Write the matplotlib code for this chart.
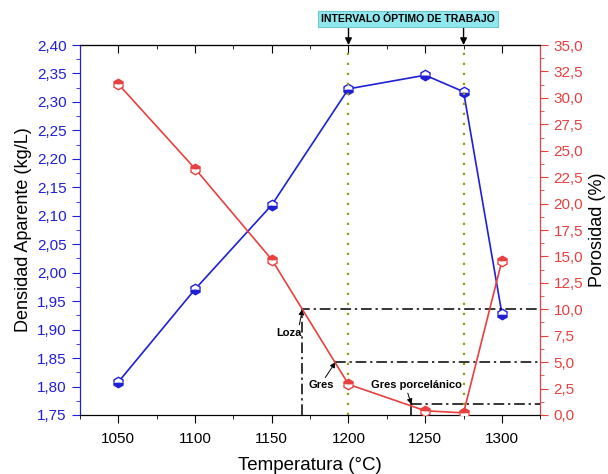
import matplotlib
matplotlib.use("Agg")
import matplotlib.pyplot as plt
from matplotlib.ticker import MultipleLocator, FuncFormatter, NullFormatter

# firing temperature (°C)
temperatura = [1050, 1100, 1150, 1200, 1250, 1275, 1300]
densidad = [1.808, 1.971, 2.119, 2.323, 2.347, 2.318, 1.928]
porosidad = [31.3, 23.3, 14.7, 2.9, 0.4, 0.2, 14.6]

# optimum firing window
intervalo = [1200, 1275]

# classification thresholds: (label, porosity limit, temperature where the curve crosses it)
clases = ["Loza", "Gres", "Gres porcelánico"]
limites = [10.0, 5.0, 1.0]
cruces = [1170, 1191.5, 1241]

BLUE = "#1f1fd6"
RED = "#e8403f"
plt.rcParams["font.family"] = ["Liberation Sans", "DejaVu Sans"]

fig = plt.figure(figsize=(6.08, 4.74), dpi=100)
ax = fig.add_axes([0.1316, 0.1245, 0.757, 0.7805])
ax2 = ax.twinx()

ax.plot(temperatura, densidad, color=BLUE, lw=1.2, marker="h", ms=7.5,
        fillstyle="bottom", markerfacecoloralt="white", mec=BLUE, zorder=4)
ax2.plot(temperatura, porosidad, color=RED, lw=1.2, marker="h", ms=7.5,
         fillstyle="top", markerfacecoloralt="white", mec=RED, zorder=4)

ax.set_xlim(1025, 1325)
ax.set_ylim(1.75, 2.40)
ax2.set_ylim(0, 35)

comma = lambda fmt: FuncFormatter(lambda v, p: (fmt % v).replace(".", ","))
ax.xaxis.set_major_locator(MultipleLocator(50))
ax.xaxis.set_minor_locator(MultipleLocator(25))
ax.yaxis.set_major_locator(MultipleLocator(0.05))
ax.yaxis.set_minor_locator(MultipleLocator(0.025))
ax.yaxis.set_major_formatter(comma("%.2f"))
ax2.yaxis.set_major_locator(MultipleLocator(2.5))
ax2.yaxis.set_minor_locator(MultipleLocator(1.25))
ax2.yaxis.set_major_formatter(comma("%.1f"))

ax.tick_params(axis="x", which="major", direction="out", length=6, labelsize=11, pad=6)
ax.tick_params(axis="x", which="minor", direction="out", length=3)
ax.tick_params(axis="y", which="major", colors=BLUE, length=6, labelsize=11)
ax.tick_params(axis="y", which="minor", colors=BLUE, length=3)
ax2.tick_params(axis="y", which="major", colors=RED, length=6, labelsize=11)
ax2.tick_params(axis="y", which="minor", colors=RED, length=3)
ax.spines["left"].set_color(BLUE)
ax2.spines["left"].set_color(BLUE)
ax2.spines["right"].set_color(RED)

# inward ticks on the top frame
top = ax.secondary_xaxis("top")
top.xaxis.set_major_locator(MultipleLocator(50))
top.xaxis.set_minor_locator(MultipleLocator(25))
top.xaxis.set_major_formatter(NullFormatter())
top.tick_params(which="major", direction="in", length=6)
top.tick_params(which="minor", direction="in", length=3)

ax.set_xlabel("Temperatura (°C)", fontsize=13.5, labelpad=8)
ax.set_ylabel("Densidad Aparente (kg/L)", fontsize=13)
ax2.set_ylabel("Porosidad (%)", fontsize=13)

# optimum window markers
for t in intervalo:
    ax2.axvline(t, color="#9a9a10", ls=(0, (1, 3.5)), lw=1.6, zorder=2)
    ax2.annotate("", xy=(t, 35), xytext=(t, 36.75), annotation_clip=False,
                 arrowprops=dict(arrowstyle="-|>", color="black", lw=1,
                                 mutation_scale=10, shrinkA=0, shrinkB=0))
ax2.text(sum(intervalo) / 2 + 1, 37.45, "INTERVALO ÓPTIMO DE TRABAJO", ha="center",
         va="center", fontsize=7.5, fontweight="bold",
         bbox=dict(boxstyle="square,pad=0.3", fc="#8ee8ee", ec="#6cc8cc", lw=0.8))

# classification lines
dashdot = (0, (7, 2.5, 1.5, 2.5))
ax2.plot([cruces[0], cruces[0], 1325], [0, limites[0], limites[0]],
         color="black", ls=dashdot, lw=1.1, zorder=3)
ax2.plot([cruces[1], 1325], [limites[1]] * 2, color="black", ls=dashdot, lw=1.1, zorder=3)
ax2.plot([cruces[2], cruces[2]], [0, limites[2]], color="black", lw=1.1, zorder=3)
ax2.plot([cruces[2], 1325], [limites[2]] * 2, color="black", ls=dashdot, lw=1.1, zorder=3)

arrow = dict(arrowstyle="-|>", color="black", lw=0.7, mutation_scale=8, shrinkA=0, shrinkB=0)
ax2.annotate(clases[0], xy=(cruces[0], limites[0]), xytext=(1161, 7.8),
             ha="center", va="center", fontsize=8, fontweight="bold",
             arrowprops=dict(arrow, relpos=(0.9, 1.0)))
ax2.annotate(clases[1], xy=(cruces[1], limites[1]), xytext=(1182, 2.8),
             ha="center", va="center", fontsize=8, fontweight="bold",
             arrowprops=dict(arrow, relpos=(0.6, 1.0)))
ax2.annotate(clases[2], xy=(cruces[2], limites[2]), xytext=(1244, 2.8),
             ha="center", va="center", fontsize=8, fontweight="bold",
             arrowprops=dict(arrow, relpos=(0.4, 0.0)))

fig.savefig("out.png", dpi=100)
